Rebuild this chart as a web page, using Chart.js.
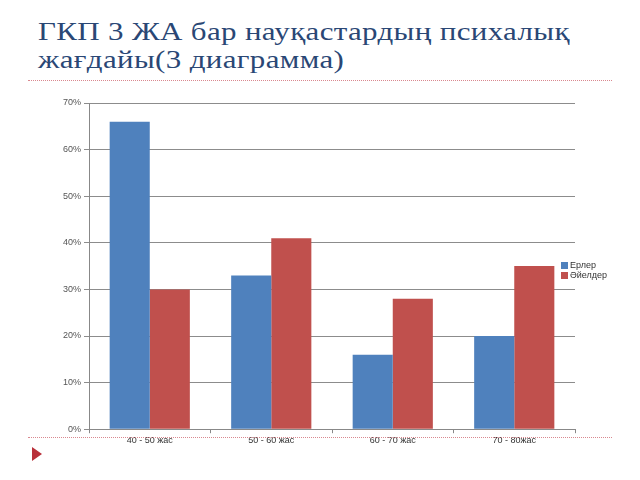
<!DOCTYPE html>
<html>
<head>
<meta charset="utf-8">
<script src="https://cdn.jsdelivr.net/npm/chart.js@4/dist/chart.umd.min.js"></script>
<style>
  html, body { margin: 0; padding: 0; background: #fff; }
  #wrap { position: relative; width: 640px; height: 480px; overflow: hidden; }
  #title {
    position: absolute; left: 38px; top: 18px; width: 520px;
    font-family: "Liberation Serif", "DejaVu Serif", serif;
    font-size: 26px; line-height: 28px; letter-spacing: 0.3px; color: #2a4775;
    transform: scaleX(1.19); transform-origin: 0 0; white-space: nowrap;
  }
  .dots { position: absolute; left: 28px; width: 584px; border-top: 1px dotted #d9888f; }
  #tri {
    position: absolute; left: 32px; top: 447px; width: 0; height: 0;
    border-top: 7px solid transparent; border-bottom: 7px solid transparent;
    border-left: 10px solid #b9303a;
  }
  #barChart { position: absolute; left: 0; top: 0; }
  #legend {
    position: absolute; left: 561px; top: 260px;
    font-family: "Liberation Sans", sans-serif; font-size: 9px; line-height: 10px; color: #333;
  }
  #legend span { display: inline-block; width: 7px; height: 7px; margin-right: 2px; vertical-align: -1px; }
</style>
</head>
<body>
<div id="wrap">
  <div id="title">ГКП 3 ЖА бар науқастардың психалық<br>жағдайы(3 диаграмма)</div>
  <div class="dots" style="top:80px"></div>
  <canvas id="barChart" width="640" height="480"></canvas>
  <div id="legend"></div>
  <div class="dots" style="top:437px"></div>
  <div id="tri"></div>
</div>
<script>
const categories = ["40 - 50 жас", "50 - 60 жас", "60 - 70 жас", "70 - 80жас"];
const men = [66, 33, 16, 20];
const women = [30, 41, 28, 35];
const seriesNames = ["Ерлер", "Әйелдер"];
const colors = ["#4f81bd", "#c0504d"];

const data = {
  labels: categories,
  datasets: [
    { label: seriesNames[0], data: men, backgroundColor: colors[0] },
    { label: seriesNames[1], data: women, backgroundColor: colors[1] },
  ],
};

const ctx = document.getElementById("barChart");
const myChart = new Chart(ctx, {
  type: "bar",
  data: data,
  options: {
    responsive: false,
    animation: false,
    layout: { padding: { top: 103, bottom: 32, left: 60, right: 65 } },
    datasets: { bar: { categoryPercentage: 0.66, barPercentage: 1.0 } },
    plugins: {
      tooltip: { enabled: false },
      legend: { display: false },
    },
    scales: {
      x: {
        grid: { drawOnChartArea: false, tickLength: 4, color: "#888" },
        border: { color: "#888" },
        ticks: { color: "#333", font: { family: "Liberation Sans", size: 9 }, padding: 2 },
      },
      y: {
        min: 0, max: 70,
        grid: { color: "#8c8c8c", tickLength: 5 },
        border: { color: "#888" },
        ticks: {
          stepSize: 10, color: "#555", padding: 3,
          font: { family: "Liberation Sans", size: 9 },
          callback: (v) => v + "%",
        },
      },
    },
  },
});

// legend built from the chart's datasets
document.getElementById("legend").innerHTML = myChart.data.datasets
  .map((d) => '<div><span style="background:' + d.backgroundColor + '"></span>' + d.label + "</div>")
  .join("");
</script>
</body>
</html>
